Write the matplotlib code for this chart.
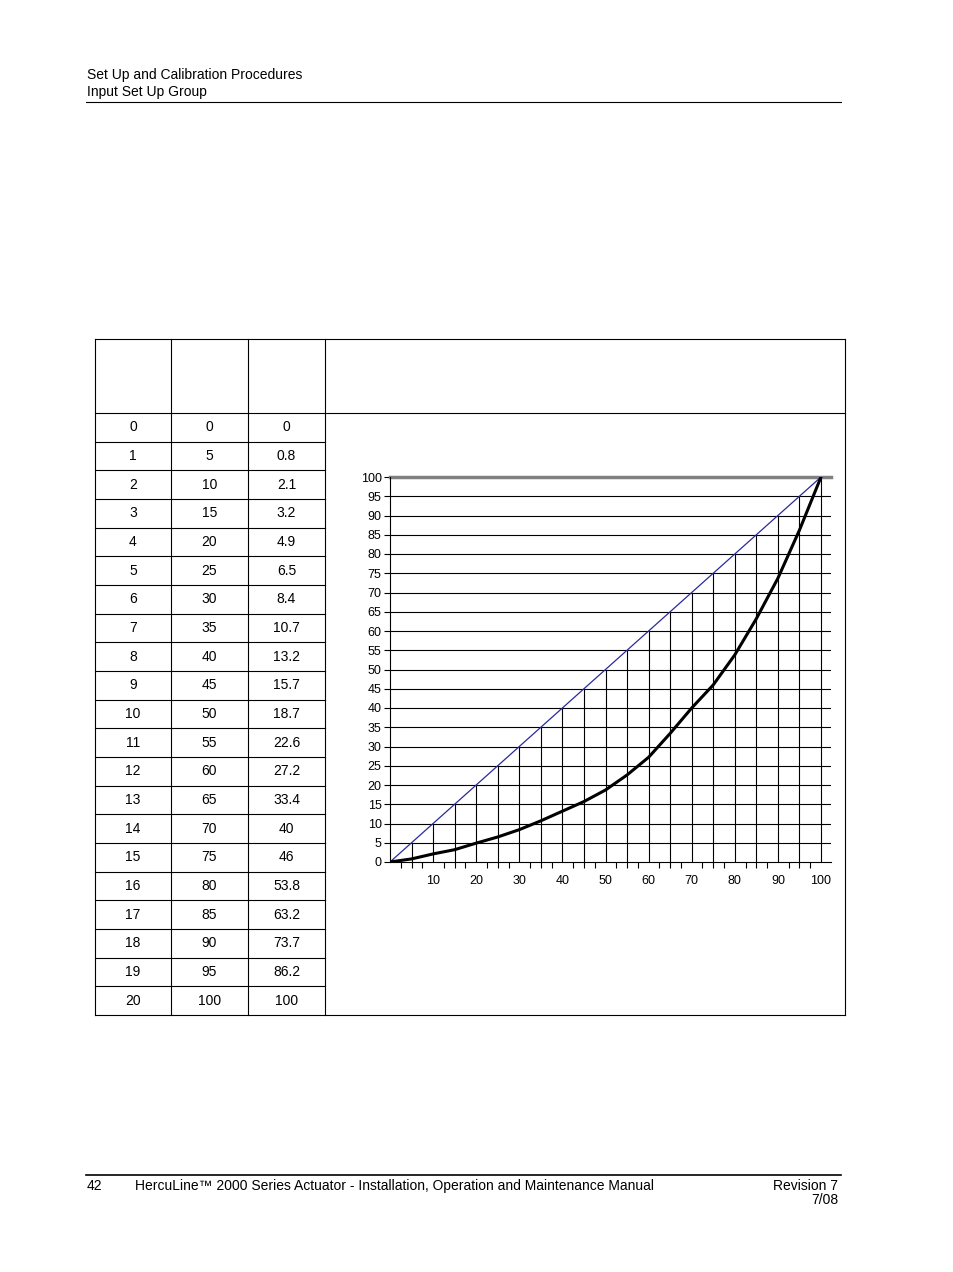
import matplotlib
matplotlib.use("Agg")
import matplotlib.pyplot as plt
from matplotlib.lines import Line2D

plt.rcParams['font.family'] = ['Liberation Sans', 'DejaVu Sans']

points = list(range(21))
inputs = [0, 5, 10, 15, 20, 25, 30, 35, 40, 45, 50, 55, 60, 65, 70, 75, 80, 85, 90, 95, 100]
outputs = [0, 0.8, 2.1, 3.2, 4.9, 6.5, 8.4, 10.7, 13.2, 15.7, 18.7, 22.6, 27.2, 33.4, 40, 46, 53.8, 63.2, 73.7, 86.2, 100]
xtick_labels = [10, 20, 30, 40, 50, 60, 70, 80, 90, 100]
ytick_labels = list(range(0, 101, 5))

W, H = 954, 1272
fig = plt.figure(figsize=(W/100, H/100), dpi=100)

def fx(px): return px / W
def fy(py): return 1 - py / H

def hline(x0, x1, y, lw=0.8, c='black'):
    fig.add_artist(Line2D([fx(x0), fx(x1)], [fy(y), fy(y)], lw=lw, color=c))
def vline(x, y0, y1, lw=0.8, c='black'):
    fig.add_artist(Line2D([fx(x), fx(x)], [fy(y0), fy(y1)], lw=lw, color=c))
def text(x, y, s, ha='left', va='center', size=10):
    fig.text(fx(x), fy(y), s, ha=ha, va=va, fontsize=size)

# page header / footer
text(87, 75, "Set Up and Calibration Procedures")
text(87, 92, "Input Set Up Group")
hline(86, 841, 102)
hline(86, 841, 1175, lw=1.2)
text(87, 1186, "42")
text(395, 1186, "HercuLine\u2122 2000 Series Actuator - Installation, Operation and Maintenance Manual", ha='center')
text(838, 1186, "Revision 7", ha='right')
text(838, 1200, "7/08", ha='right')

# table
cols = [95, 171, 248, 325, 845]
top, head_bot, bot = 339, 413, 1015
rh = (bot - head_bot) / len(points)
for x in cols:
    vline(x, top, bot)
hline(cols[0], cols[-1], top)
hline(cols[0], cols[-1], head_bot)
hline(cols[0], cols[-1], bot)
for i in range(1, len(points)):
    hline(cols[0], cols[3], head_bot + i * rh)
for i, (p, a, b) in enumerate(zip(points, inputs, outputs)):
    yc = head_bot + (i + 0.5) * rh
    for j, v in enumerate([p, a, b]):
        text((cols[j] + cols[j+1]) / 2, yc, f"{v:g}", ha='center')

# chart
L, R, T, B = 390, 831, 477, 862
ax = fig.add_axes([fx(L), fy(B), (R - L) / W, (B - T) / H])
xmax = 100 * (R - L) / (821 - L)
ax.set_xlim(0, xmax)
ax.set_ylim(0, 100)
for y in ytick_labels[1:-1]:
    ax.axhline(y, color='black', lw=0.8, zorder=1)
ax.axhline(100, color='#808080', lw=2.5, zorder=2, clip_on=False)
for x in inputs[1:]:
    ax.plot([x, x], [0, x], color='black', lw=0.8, zorder=1)
ax.plot([0, 100], [0, 100], color='#2a2a9a', lw=0.9, zorder=3)
ax.plot(inputs, outputs, color='black', lw=2.2, zorder=4)
for s in ['top', 'right']:
    ax.spines[s].set_visible(False)
ax.spines['left'].set_linewidth(0.8)
ax.spines['bottom'].set_linewidth(0.8)
ax.set_yticks(ytick_labels)
ax.set_yticklabels([str(v) for v in ytick_labels], fontsize=9)
ax.set_xticks(xtick_labels)
ax.set_xticklabels([str(v) for v in xtick_labels], fontsize=9)
ax.set_xticks([i * 2.5 for i in range(1, 41)], minor=True)
ax.tick_params(axis='x', which='major', length=0, pad=9)
ax.tick_params(axis='x', which='minor', length=4, direction='out', width=0.8)
ax.tick_params(axis='y', length=4, width=0.8, pad=2)

fig.savefig("out.png", dpi=100)
